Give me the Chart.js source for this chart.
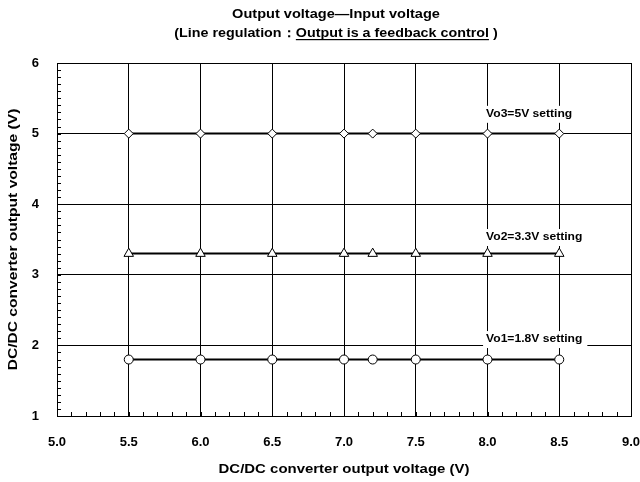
<!DOCTYPE html>
<html lang="en">
<head>
  <meta charset="UTF-8">
  <title>Output voltage - Input voltage</title>
  <style>
    body { margin: 0; background: #fff; }
    #wrap { width: 640px; height: 482px; }
  </style>
</head>
<body>
  <div id="wrap"><canvas id="myChart" width="640" height="482"></canvas></div>

  <script src="https://cdn.jsdelivr.net/npm/chart.js"></script>
  <script>
    // input voltage points
    const inputV = [5.5, 6.0, 6.5, 7.0, 7.2, 7.5, 8.0, 8.5];
    const vo1 = [1.8, 1.8, 1.8, 1.8, 1.8, 1.8, 1.8, 1.8];
    const vo2 = [3.3, 3.3, 3.3, 3.3, 3.3, 3.3, 3.3, 3.3];
    const vo3 = [5.0, 5.0, 5.0, 5.0, 5.0, 5.0, 5.0, 5.0];
    const seriesNames = ['Vo3=5V setting', 'Vo2=3.3V setting', 'Vo1=1.8V setting'];
    const xTitle = 'DC/DC converter output voltage (V)';
    const yTitle = 'DC/DC converter output voltage (V)';

    const FONT = 'Liberation Sans, Arial, sans-serif';

    const pts = ys => inputV.map((x, i) => ({ x: x, y: ys[i] }));
    const ds = (name, ys, shape, r) => ({
      label: name,
      data: pts(ys),
      borderColor: '#000',
      borderWidth: 2,
      backgroundColor: '#fff',
      pointBackgroundColor: '#fff',
      pointBorderColor: '#000',
      pointBorderWidth: 1,
      pointStyle: shape,
      pointRadius: r,
      showLine: true,
      tension: 0
    });

    // where the series names sit (value coords)
    const labelSpots = [
      { text: seriesNames[0], x: 7.99, y: 5.28 },
      { text: seriesNames[1], x: 7.99, y: 3.535 },
      { text: seriesNames[2], x: 7.99, y: 2.09 }
    ];

    // draw text stretched a bit wider, like the original
    function wideText(ctx, text, x, y, sx, align) {
      const w = ctx.measureText(text).width * sx;
      let left = x;
      if (align === 'center') left = x - w / 2;
      ctx.save();
      ctx.translate(left, y);
      ctx.scale(sx, 1);
      ctx.textAlign = 'left';
      ctx.fillText(text, 0, 0);
      ctx.restore();
      return w;
    }

    const extras = {
      id: 'extras',
      afterDatasetsDraw(chart) {
        const ctx = chart.ctx;
        const xs = chart.scales.x, ys = chart.scales.y;
        const area = chart.chartArea;
        ctx.save();
        // minor ticks inside the plot
        ctx.strokeStyle = '#000';
        ctx.lineWidth = 1;
        ctx.beginPath();
        for (let i = 1; i < 40; i++) {
          const px = Math.round(xs.getPixelForValue(5 + i * 0.1)) + 0.5;
          ctx.moveTo(px, area.bottom);
          ctx.lineTo(px, area.bottom - 4);
        }
        for (let i = 1; i < 50; i++) {
          const py = Math.round(ys.getPixelForValue(1 + i * 0.1)) + 0.5;
          ctx.moveTo(area.left, py);
          ctx.lineTo(area.left + 4, py);
        }
        ctx.stroke();

        // series name labels with white boxes
        ctx.font = 'bold 11px ' + FONT;
        ctx.textBaseline = 'middle';
        labelSpots.forEach(l => {
          const px = xs.getPixelForValue(l.x);
          const py = ys.getPixelForValue(l.y);
          const w = ctx.measureText(l.text).width * 1.1;
          ctx.fillStyle = '#fff';
          ctx.fillRect(px - 3, py - 8, w + 8, 17);
          ctx.fillStyle = '#000';
          wideText(ctx, l.text, px, py, 1.1, 'left');
        });

        // main title
        ctx.fillStyle = '#000';
        ctx.font = 'bold 13px ' + FONT;
        ctx.textBaseline = 'alphabetic';
        wideText(ctx, 'Output voltage\u2014Input voltage', 336, 18, 1.12, 'center');
        const a = '(Line regulation\uFF1A', b = 'Output is a feedback control', c = ' )';
        const sx = 1.1;
        const wa = ctx.measureText(a).width * sx, wb = ctx.measureText(b).width * sx, wc = ctx.measureText(c).width * sx;
        const x0 = 336 - (wa + wb + wc) / 2;
        wideText(ctx, a, x0, 37, sx, 'left');
        wideText(ctx, b, x0 + wa, 37, sx, 'left');
        wideText(ctx, c, x0 + wa + wb, 37, sx, 'left');
        ctx.fillRect(x0 + wa, 39, wb, 1.2);

        // axis titles
        ctx.font = 'bold 13px ' + FONT;
        wideText(ctx, xTitle, (area.left + area.right) / 2, 473, 1.15, 'center');
        ctx.save();
        ctx.translate(17, (area.top + area.bottom) / 2);
        ctx.rotate(-Math.PI / 2);
        wideText(ctx, yTitle, 0, 0, 1.2, 'center');
        ctx.restore();
        ctx.restore();
      }
    };

    new Chart(document.getElementById('myChart'), {
      type: 'scatter',
      data: {
        datasets: [
          ds(seriesNames[0], vo3, 'rectRot', 4.5),
          ds(seriesNames[1], vo2, 'triangle', 5.5),
          ds(seriesNames[2], vo1, 'circle', 4.5)
        ]
      },
      options: {
        responsive: false,
        animation: false,
        layout: { padding: { top: 63, right: 9, left: 0, bottom: 0 } },
        plugins: { legend: { display: false }, tooltip: { enabled: false } },
        scales: {
          x: {
            min: 5, max: 9,
            ticks: {
              stepSize: 0.5,
              color: '#000',
              font: { family: FONT, size: 13, weight: 'bold' },
              padding: 19,
              maxRotation: 0,
              callback: v => v.toFixed(1)
            },
            grid: { color: '#000', drawTicks: false, lineWidth: 1 },
            border: { color: '#000', width: 1 },
            afterFit: s => { s.height = 66; s.paddingLeft = 0; s.paddingRight = 0; }
          },
          y: {
            min: 1, max: 6,
            ticks: {
              stepSize: 1,
              color: '#000',
              font: { family: FONT, size: 13, weight: 'bold' },
              padding: 18
            },
            grid: { color: '#000', drawTicks: false, lineWidth: 1 },
            border: { color: '#000', width: 1 },
            afterFit: s => { s.width = 57; s.paddingTop = 0; s.paddingBottom = 0; }
          }
        }
      },
      plugins: [extras]
    });
  </script>
</body>
</html>
